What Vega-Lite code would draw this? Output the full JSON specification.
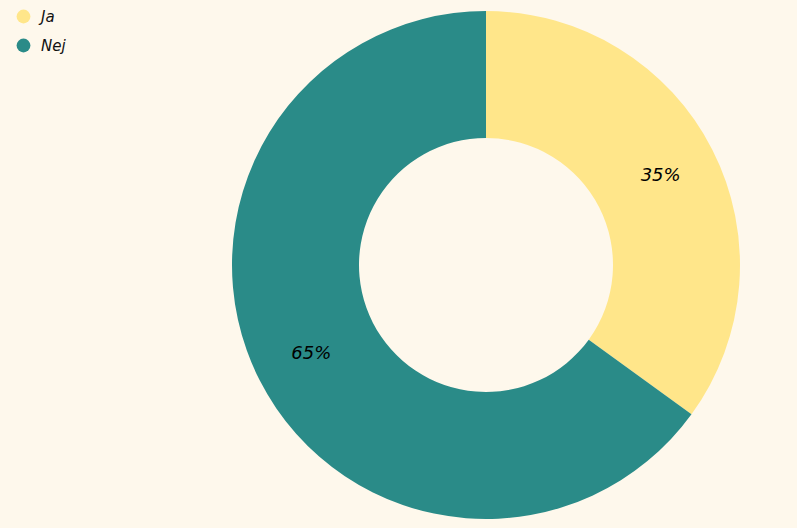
{
  "$schema": "https://vega.github.io/schema/vega-lite/v6.json",
  "autosize": "none",
  "width": 622,
  "height": 530,
  "padding": {"left": 175, "top": 0, "right": 0, "bottom": 0},
  "background": "#fef8ec",
  "config": {"view": {"stroke": null}},
  "data": {"values": [
    {"answer": "Ja", "share": 0.35, "ord": 1},
    {"answer": "Nej", "share": 0.65, "ord": 2}
  ]},
  "encoding": {
    "theta": {"field": "share", "type": "quantitative", "stack": true},
    "order": {"field": "ord", "type": "quantitative"},
    "color": {
      "field": "answer", "type": "nominal",
      "scale": {"domain": ["Ja", "Nej"], "range": ["#ffe68a", "#2a8b88"]},
      "legend": {
        "title": null, "orient": "none", "legendX": -159, "legendY": 9,
        "symbolType": "circle", "symbolSize": 190, "symbolStrokeWidth": 0,
        "labelFont": "DejaVu Sans", "labelFontStyle": "italic", "labelFontSize": 15,
        "labelColor": "#111111", "labelOffset": 10, "rowPadding": 13
      }
    }
  },
  "layer": [
    {"mark": {"type": "arc", "outerRadius": 254, "innerRadius": 127}},
    {
      "mark": {"type": "text", "radius": 196, "font": "DejaVu Sans", "fontStyle": "italic", "fontSize": 18, "color": "#000000"},
      "encoding": {
        "text": {"field": "share", "type": "quantitative", "format": ".0%"},
        "color": {"value": "#000000"}
      }
    }
  ]
}
